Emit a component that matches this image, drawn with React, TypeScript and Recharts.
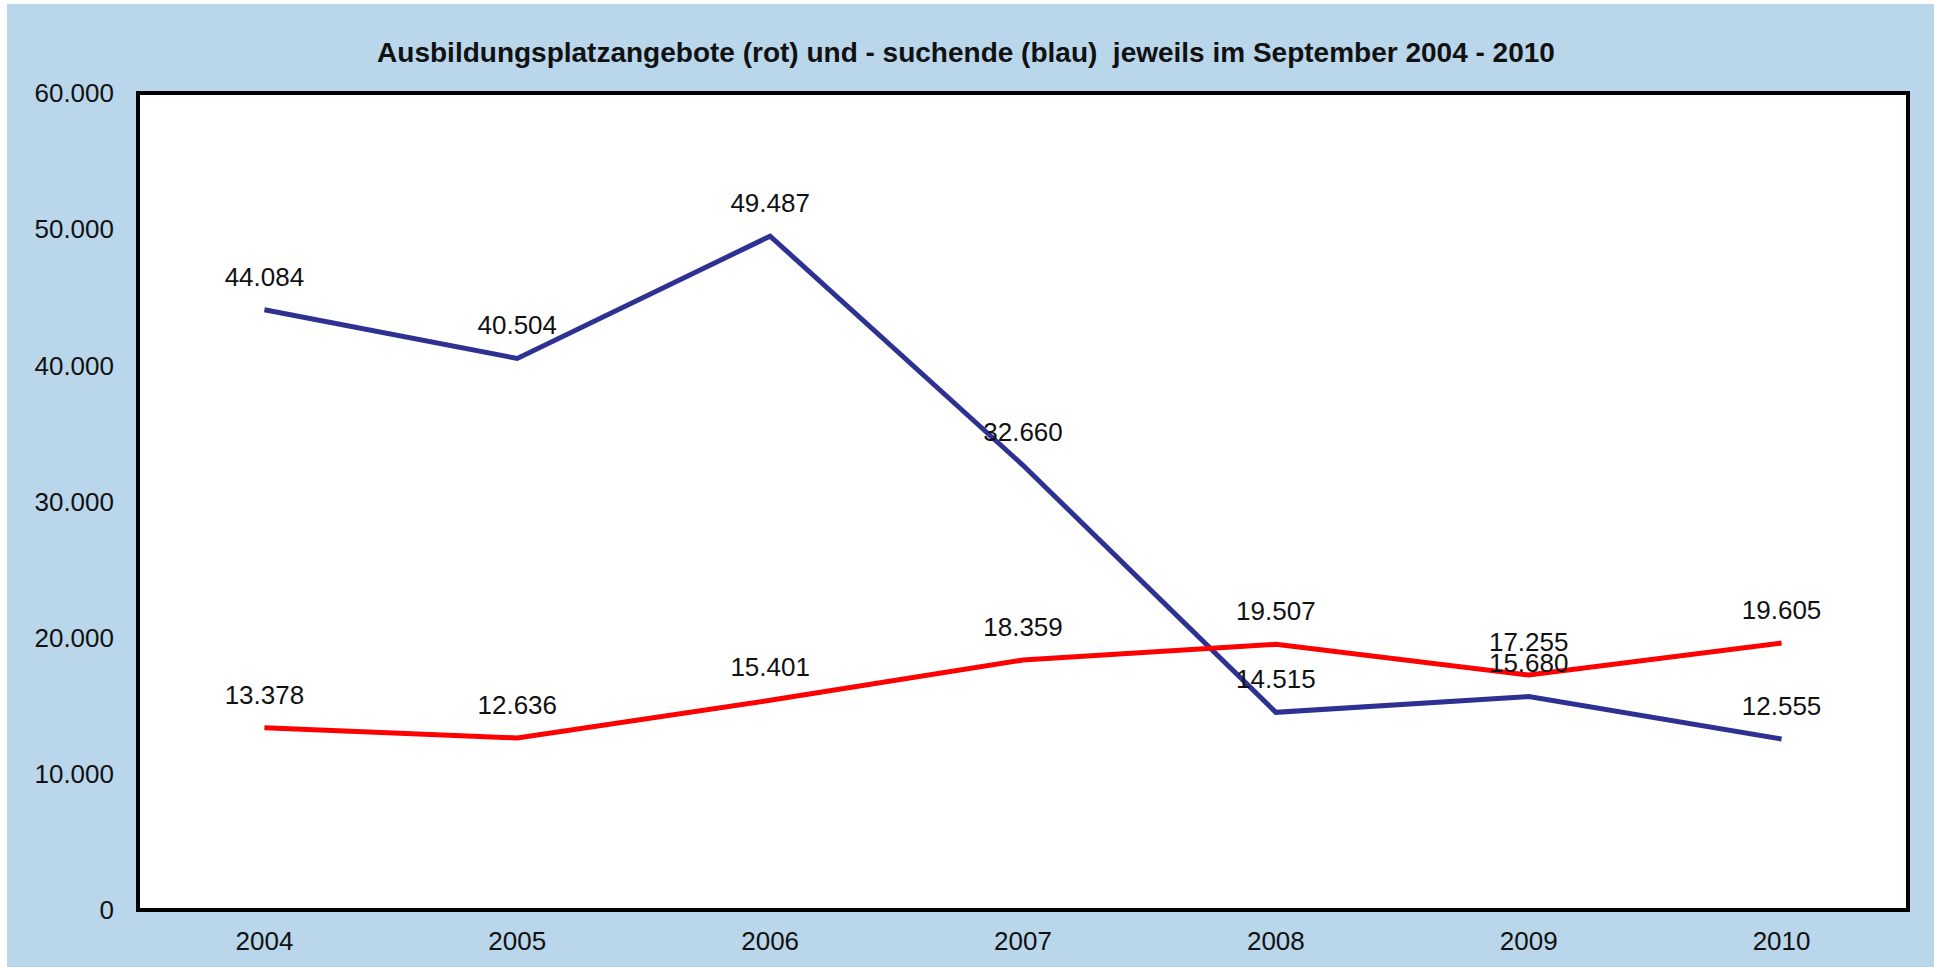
import { LineChart, Line, XAxis, YAxis, CartesianGrid, LabelList, ReferenceArea } from 'recharts';

const years = ['2004', '2005', '2006', '2007', '2008', '2009', '2010'];
const angebote = [13378, 12636, 15401, 18359, 19507, 17255, 19605]; // rot
const suchende = [44084, 40504, 49487, 32660, 14515, 15680, 12555]; // blau
const yTicks = [0, 10000, 20000, 30000, 40000, 50000, 60000];

const data = years.map((year, i) => ({ year, angebote: angebote[i], suchende: suchende[i] }));

const fmt = (v: number) => String(v).replace(/\B(?=(\d{3})+(?!\d))/g, '.');

const font = '"Liberation Sans", Arial, sans-serif';
const tickStyle = { fill: '#111', fontSize: 26, fontFamily: font };

export default function App() {
    return (
        <div style={{ position: 'fixed', left: 0, top: 0, width: 1934, height: 967, background: '#fff' }}>
            <div style={{ position: 'absolute', left: 7, top: 4, right: 0, bottom: 0, background: '#B9D6EB' }} />
            <div style={{ position: 'absolute', left: 0, top: 0 }}>
                <LineChart width={1934} height={967} data={data} margin={{ top: 93, right: 26, bottom: 0, left: 0 }}>
                    <text
                        x={966}
                        y={62}
                        textAnchor="middle"
                        style={{ whiteSpace: 'pre' }}
                        fontFamily={font}
                        fontSize={28}
                        fontWeight="bold"
                        fill="#111"
                    >
                        Ausbildungsplatzangebote (rot) und - suchende (blau)  jeweils im September 2004 - 2010
                    </text>
                    <CartesianGrid fill="#fff" horizontal={false} vertical={false} />
                    <XAxis
                        dataKey="year"
                        scale="band"
                        height={57}
                        axisLine={{ stroke: '#000', strokeWidth: 4 }}
                        tickLine={false}
                        tickSize={0}
                        tickMargin={22}
                        tick={tickStyle}
                    />
                    <YAxis
                        width={138}
                        domain={[0, 60000]}
                        ticks={yTicks}
                        axisLine={{ stroke: '#000', strokeWidth: 4 }}
                        tickLine={false}
                        tickSize={0}
                        tickMargin={24}
                        tickFormatter={fmt}
                        tick={tickStyle}
                    />
                    {/* plot frame */}
                    <ReferenceArea y1={0} y2={60000} fill="none" stroke="#000" strokeWidth={4} />
                    <Line
                        dataKey="suchende"
                        stroke="#2E3192"
                        strokeWidth={5}
                        dot={false}
                        isAnimationActive={false}
                    >
                        <LabelList dataKey="suchende" position="top" offset={24} formatter={fmt} style={tickStyle} />
                    </Line>
                    <Line
                        dataKey="angebote"
                        stroke="#FF0000"
                        strokeWidth={5}
                        dot={false}
                        isAnimationActive={false}
                    >
                        <LabelList dataKey="angebote" position="top" offset={24} formatter={fmt} style={tickStyle} />
                    </Line>
                </LineChart>
            </div>
        </div>
    );
}
